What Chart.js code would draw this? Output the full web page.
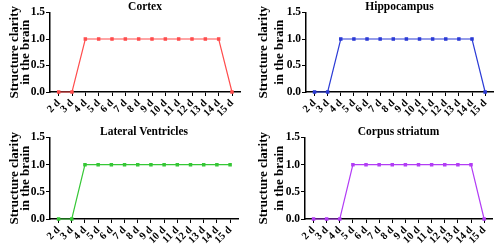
<!DOCTYPE html>
<html>
<head>
<meta charset="utf-8">
<script src="https://cdn.jsdelivr.net/npm/chart.js@4"></script>
<style>
  body { margin: 0; background: #fff; width: 500px; height: 245px; position: relative; overflow: hidden; }
  canvas { position: absolute; }
</style>
</head>
<body>
<canvas id="c0" width="250" height="122" style="left:0;top:0"></canvas>
<canvas id="c1" width="250" height="122" style="left:250px;top:0"></canvas>
<canvas id="c2" width="250" height="120" style="left:0;top:125px"></canvas>
<canvas id="c3" width="250" height="120" style="left:250px;top:125px"></canvas>
<script>
const days = ['2 d', '3 d', '4 d', '5 d', '6 d', '7 d', '8 d', '9 d', '10 d', '11 d', '12 d', '13 d', '14 d', '15 d']
const yTicks = [0, 0.5, 1.0, 1.5]

const titles = ['Cortex', 'Hippocampus', 'Lateral Ventricles', 'Corpus striatum']
const cortex      = [0, 0, 1, 1, 1, 1, 1, 1, 1, 1, 1, 1, 1, 0]
const hippocampus = [0, 0, 1, 1, 1, 1, 1, 1, 1, 1, 1, 1, 1, 0]
const ventricles  = [0, 0, 1, 1, 1, 1, 1, 1, 1, 1, 1, 1, 1, 1]
const striatum    = [0, 0, 0, 1, 1, 1, 1, 1, 1, 1, 1, 1, 1, 0]
const series = [cortex, hippocampus, ventricles, striatum]
const colors = ['#ff4d4d', '#2b3bd6', '#35c735', '#b23cf5']

// per panel layout: y axis width, x axis height, right padding, y title line gap and padding
const panels = [
  { yWidth: 50, xHeight: 30, right: 10, lh: 0.85, tpad: 9 },
  { yWidth: 56, xHeight: 30, right: 7, lh: 1.23, tpad: 6 },
  { yWidth: 50, xHeight: 26, right: 12, lh: 0.85, tpad: 9 },
  { yWidth: 55, xHeight: 26, right: 8, lh: 1.23, tpad: 6 },
]

const serif = "'Liberation Serif', 'Times New Roman', serif"

function makeChart(i) {
  const p = panels[i]
  const ctx = document.getElementById('c' + i).getContext('2d')
  return new Chart(ctx, {
    type: 'line',
    data: {
      datasets: [{
        data: series[i].map((v, k) => ({ x: k, y: v })),
        borderColor: colors[i],
        backgroundColor: colors[i],
        borderWidth: 1.2,
        pointStyle: 'rect',
        pointRadius: 1.6,
        pointHoverRadius: 1.6,
        tension: 0,
        clip: false,
      }]
    },
    options: {
      responsive: false,
      animation: false,
      devicePixelRatio: 1,
      layout: { padding: { left: 0, right: p.right, top: 0, bottom: 0 } },
      plugins: {
        legend: { display: false },
        tooltip: { enabled: false },
        title: {
          display: true,
          fullSize: false,
          text: titles[i],
          color: '#000',
          font: { family: serif, size: 11.5, weight: 'bold', lineHeight: 1.0 },
          padding: { top: 1, bottom: 0 },
        },
      },
      scales: {
        x: {
          type: 'linear',
          min: -0.65,
          max: 13.6,
          afterFit: (s) => { s.height = p.xHeight },
          grid: { display: true, drawOnChartArea: false, drawTicks: true, tickLength: 4, color: '#000', lineWidth: 1 },
          border: { display: true, color: '#000', width: 1.5 },
          ticks: {
            stepSize: 1,
            includeBounds: false,
            autoSkip: false,
            minRotation: 45,
            maxRotation: 45,
            padding: 1,
            color: '#000',
            font: { family: serif, size: 10.5, weight: 'bold' },
            callback: (v) => Number.isInteger(v) ? days[v] : '',
          },
        },
        y: {
          min: 0,
          max: 1.5,
          afterFit: (s) => { s.width = p.yWidth },
          afterBuildTicks: (s) => { s.ticks = yTicks.map((v) => ({ value: v })) },
          grid: { display: true, drawOnChartArea: false, drawTicks: true, tickLength: 4, color: '#000', lineWidth: 1 },
          border: { display: true, color: '#000', width: 1.5 },
          ticks: {
            padding: 1,
            color: '#000',
            font: { family: serif, size: 11.5, weight: 'bold' },
            callback: (v) => v.toFixed(1),
          },
          title: {
            display: true,
            text: ['Structure clarity', 'in the brain'],
            color: '#000',
            font: { family: serif, size: 13, weight: 'bold', lineHeight: p.lh },
            padding: { top: p.tpad, bottom: 0 },
          },
        },
      },
    },
  })
}

for (let i = 0; i < 4; i++) makeChart(i)
</script>
</body>
</html>
